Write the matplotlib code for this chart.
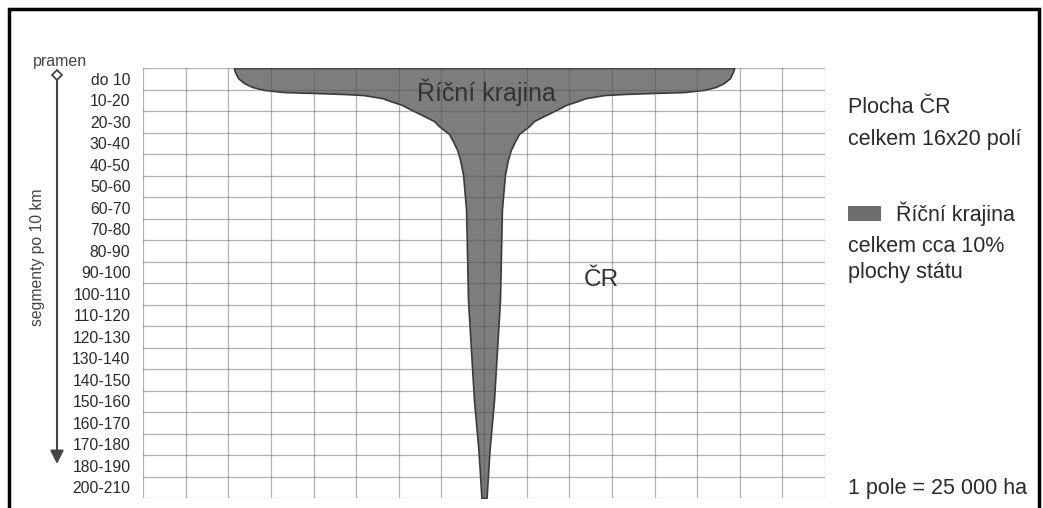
import matplotlib.pyplot as plt
import numpy as np
from matplotlib.lines import Line2D
from matplotlib.patches import Rectangle

plt.rcParams['font.family'] = ['Liberation Sans', 'DejaVu Sans']

W, H = 1043, 508

# river segments of 10 km, from the source downstream (one grid row each)
segments = ['do 10', '10-20', '20-30', '30-40', '40-50', '50-60', '60-70',
            '70-80', '80-90', '90-100', '100-110', '110-120', '120-130',
            '130-140', '140-150', '150-160', '160-170', '170-180', '180-190',
            '200-210']
n_cols = 16
river_axis = 8.0

# outline of the river landscape: depth in rows, half-width in columns
depth = [0.0, 0.19, 0.47, 0.70, 0.88, 1.02, 1.12, 1.16, 1.21, 1.26, 1.40,
         1.53, 1.72, 1.91, 2.19, 2.47, 2.70, 3.07, 3.40, 3.81, 4.28, 4.98,
         6.60, 10.79, 15.44, 17.77, 20.0]
half_width = [5.87, 5.84, 5.77, 5.63, 5.44, 5.16, 4.69, 3.99, 3.28, 2.82,
              2.39, 2.21, 1.92, 1.74, 1.45, 1.17, 1.06, 0.82, 0.73, 0.63,
              0.56, 0.49, 0.42, 0.375, 0.235, 0.13, 0.06]


def fx(x):
    return x / W


def fy(y):
    return 1 - y / H


fig = plt.figure(figsize=(W / 100, H / 100), dpi=100)
fig.patch.set_facecolor('white')

ax = fig.add_axes([fx(143), fy(498), fx(825) - fx(143), fy(68) - fy(498)])
ax.set_xlim(0, n_cols)
ax.set_ylim(len(segments), 0)

d = np.array(depth)
hw = np.array(half_width)
ax.fill_betweenx(d, river_axis - hw, river_axis + hw, facecolor='#7d7d7d',
                 edgecolor='#3a3a3a', linewidth=1.2, zorder=1)

# field grid, drawn over the landscape
for i in range(n_cols + 1):
    ax.axvline(i, color='#555555', alpha=0.45, lw=0.9, zorder=2)
for j in range(len(segments) + 1):
    ax.axhline(j, color='#555555', alpha=0.45, lw=0.9, zorder=2)

for s in ax.spines.values():
    s.set_visible(False)
ax.set_xticks([])
ax.set_yticks(np.arange(len(segments)) + 0.5)
ax.set_yticklabels(segments, fontsize=11.3, color='#2a2a2a')
ax.tick_params(axis='y', length=0, pad=9)

ax.text(8.05, 1.53, 'Říční krajina', fontsize=18, color='#333333',
        ha='center', va='baseline', zorder=3)
ax.text(10.75, 10.14, 'ČR', fontsize=17.5, color='#333333',
        ha='center', va='baseline', zorder=3)

# segment axis on the left
fig.text(fx(33), fy(66), 'pramen', fontsize=11.5, color='#444444',
         ha='left', va='baseline')
fig.text(fx(38), fy(257), 'segmenty po 10 km', fontsize=11.3, color='#444444',
         rotation=90, ha='center', va='center')
ax.annotate('', xy=(fx(57), fy(464)), xytext=(fx(57), fy(76)),
            xycoords='figure fraction', textcoords='figure fraction',
            arrowprops=dict(arrowstyle='-|>', color='#444444', lw=1.5,
                            mutation_scale=20, shrinkA=0, shrinkB=0))
fig.add_artist(Line2D([fx(57)], [fy(75)], marker='D', ms=5, mfc='white',
                      mec='#444444', mew=1.3))

# notes on the right
tc = '#2a2a2a'
fs = 15.5
fig.text(fx(848), fy(113), 'Plocha ČR', fontsize=fs, color=tc, va='baseline')
fig.text(fx(848), fy(145), 'celkem 16x20 polí', fontsize=fs, color=tc, va='baseline')
fig.add_artist(Rectangle((fx(848), fy(221)), fx(881) - fx(848), fy(206) - fy(221),
                         transform=fig.transFigure, facecolor='#6e6e6e',
                         edgecolor='none'))
fig.text(fx(896), fy(221), 'Říční krajina', fontsize=fs, color=tc, va='baseline')
fig.text(fx(848), fy(252), 'celkem cca 10%', fontsize=fs, color=tc, va='baseline')
fig.text(fx(848), fy(278), 'plochy státu', fontsize=fs, color=tc, va='baseline')
fig.text(fx(848), fy(494), '1 pole = 25 000 ha', fontsize=fs, color=tc, va='baseline')

# frame, open at the bottom
fig.add_artist(Line2D([fx(9), fx(9), fx(1039), fx(1039)], [0, fy(9), fy(9), 0],
                      color='black', lw=2.5, solid_joinstyle='miter'))

fig.savefig('out.png', dpi=100)
